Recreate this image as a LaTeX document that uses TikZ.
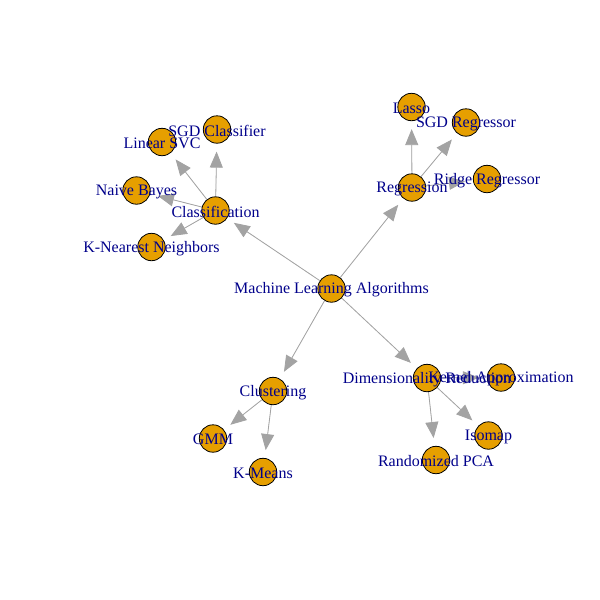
\documentclass[tikz,border=0pt]{standalone}
\usepackage{fontspec}
\setmainfont{Liberation Serif}
\usetikzlibrary{arrows.meta,backgrounds}
\definecolor{vfill}{HTML}{E69F00}
\definecolor{lblue}{HTML}{00008B}
\definecolor{egray}{HTML}{A3A3A3}
\begin{document}
\begin{tikzpicture}[x=1pt,y=-1pt,
  vtx/.style={circle,draw=black,line width=0.8pt,fill=vfill,minimum size=27.4pt,inner sep=0pt},
  lbl/.style={text=lblue,font=\fontsize{16}{18}\selectfont,inner sep=0pt,anchor=center,yshift=-1.2pt},
  edge/.style={draw=egray,line width=0.8pt,shorten >=8pt,-{Triangle[length=16pt,width=13pt]},fill=egray}]
\useasboundingbox (0,0) rectangle (600,600);
% vertices
\node[vtx] (ml) at (331.5,288.5) {};
\node[vtx] (cls) at (215.5,210.5) {};
\node[vtx] (reg) at (412,187.5) {};
\node[vtx] (clu) at (273,391) {};
\node[vtx] (dr) at (427,378) {};
\node[vtx] (lsvc) at (162,142) {};
\node[vtx] (sgdc) at (217,129.5) {};
\node[vtx] (nb) at (136.5,190.5) {};
\node[vtx] (knn) at (151.5,247) {};
\node[vtx] (lasso) at (411.5,107) {};
\node[vtx] (sgdr) at (466,122.5) {};
\node[vtx] (ridge) at (487,179) {};
\node[vtx] (gmm) at (213,438.5) {};
\node[vtx] (km) at (263,472) {};
\node[vtx] (ka) at (501,377.5) {};
\node[vtx] (iso) at (488.5,435.5) {};
\node[vtx] (rpca) at (436,460) {};
% edges
\begin{scope}[on background layer]
\fill[white] (0,0) rectangle (600,600);
\draw[edge] (ml) -- (cls);
\draw[edge] (ml) -- (reg);
\draw[edge] (ml) -- (clu);
\draw[edge] (ml) -- (dr);
\draw[edge] (cls) -- (lsvc);
\draw[edge] (cls) -- (sgdc);
\draw[edge] (cls) -- (nb);
\draw[edge] (cls) -- (knn);
\draw[edge] (reg) -- (lasso);
\draw[edge] (reg) -- (sgdr);
\draw[edge] (reg) -- (ridge);
\draw[edge] (clu) -- (gmm);
\draw[edge] (clu) -- (km);
\draw[edge] (dr) -- (ka);
\draw[edge] (dr) -- (iso);
\draw[edge] (dr) -- (rpca);
\end{scope}
% labels
\node[lbl] (tml) at (ml) {Machine Learning Algorithms};
\node[lbl] (tcls) at (cls) {Classification};
\node[lbl] (treg) at (reg) {Regression};
\node[lbl] (tclu) at (clu) {Clustering};
\node[lbl] (tdr) at (dr) {Dimensionality Reduction};
\node[lbl] (tlsvc) at (lsvc) {Linear SVC};
\node[lbl] (tsgdc) at (sgdc) {SGD Classifier};
\node[lbl] (tnb) at (nb) {Naive Bayes};
\node[lbl] (tknn) at (knn) {K-Nearest Neighbors};
\node[lbl] (tlasso) at (lasso) {Lasso};
\node[lbl] (tsgdr) at (sgdr) {SGD Regressor};
\node[lbl] (tridge) at (ridge) {Ridge Regressor};
\node[lbl] (tgmm) at (gmm) {GMM};
\node[lbl] (tkm) at (km) {K-Means};
\node[lbl] (tka) at (ka) {Kernel Approximation};
\node[lbl] (tiso) at (iso) {Isomap};
\node[lbl] (trpca) at (rpca) {Randomized PCA};
\end{tikzpicture}
\end{document}
